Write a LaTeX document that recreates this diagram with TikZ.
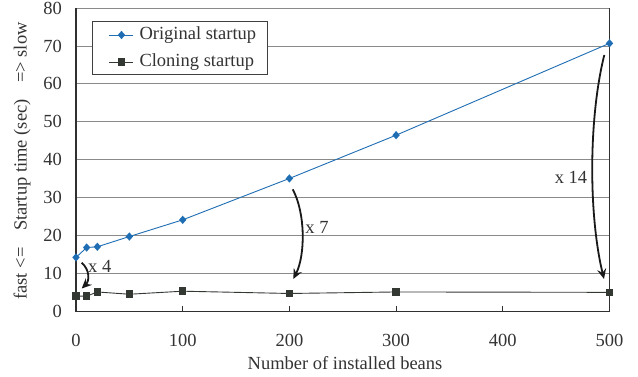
\documentclass[tikz,border=0pt]{standalone}
\usepackage{fontspec}
\setmainfont{Liberation Serif}
\usetikzlibrary{arrows.meta,shapes.geometric}
\definecolor{origblue}{HTML}{1F6EB4}
\definecolor{darkmark}{HTML}{333833}
\definecolor{gridgray}{HTML}{8A8A8A}
\definecolor{axisdark}{HTML}{303030}
\tikzset{
  lbl/.style={font=\fontsize{18.5}{20}\selectfont, text=black!80, inner sep=0pt},
  gridline/.style={gridgray, line width=0.9pt},
  axisline/.style={axisdark, line width=1.2pt},
  origline/.style={origblue, line width=0.9pt},
  cloneline/.style={darkmark, line width=0.9pt},
  diam/.style={diamond, fill=origblue, inner sep=0pt, minimum width=7.5pt, minimum height=8.5pt},
  sq/.style={rectangle, fill=darkmark, inner sep=0pt, minimum size=7.5pt},
  factor/.style={line width=1.8pt, black!90, -{Stealth[length=10pt, width=9pt, inset=3.5pt]}},
}
\begin{document}
\begin{tikzpicture}[x=1pt, y=-1pt]
\useasboundingbox (0,0) rectangle (638,377);
\fill[white] (0,0) rectangle (638,377);

% horizontal grid
\foreach \k in {1,...,8}
  \draw[gridline] (76,{311.7-37.96*\k}) -- (609.5,{311.7-37.96*\k});

% y tick labels
\foreach \k in {0,...,8}
  \node[lbl, anchor=east] (yt\k) at (62,{311.7-37.96*\k}) {\the\numexpr\k*10\relax};

% x ticks and labels
\foreach \k in {1,...,4}
  \draw[axisline] ({76+106.7*\k},311.7) -- ({76+106.7*\k},306);
\foreach \k in {0,...,5}
  \node[lbl] (xt\k) at ({76+106.7*\k},340.5) {\the\numexpr\k*100\relax};

% axes and frame
\draw[axisline] (609.5,8) -- (609.5,311.7);
\draw[axisline] (76,8) -- (76,311.7) -- (609.5,311.7);

% axis titles
\node[lbl] (xlabel) at (345,363) {Number of installed beans};
\node[lbl, rotate=90] (ylabel) at (22,161)
  {fast <=\hspace{0.9em}Startup time (sec)\hspace{0.9em}=> slow};

% data points
\begin{scope}[shift={(76,311.7)}, x=1.067pt, y=3.796pt]
  \coordinate (o0) at (0,14.3);
  \coordinate (o1) at (10,16.9);
  \coordinate (o2) at (20,17.1);
  \coordinate (o3) at (50,19.8);
  \coordinate (o4) at (100,24.2);
  \coordinate (o5) at (200,35.1);
  \coordinate (o6) at (300,46.5);
  \coordinate (o7) at (500,70.7);
  \coordinate (c0) at (0,4.1);
  \coordinate (c1) at (10,4.1);
  \coordinate (c2) at (20,5.2);
  \coordinate (c3) at (50,4.6);
  \coordinate (c4) at (100,5.4);
  \coordinate (c5) at (200,4.8);
  \coordinate (c6) at (300,5.2);
  \coordinate (c7) at (500,5.1);
\end{scope}

\draw[cloneline] (c0) -- (c1) -- (c2) -- (c3) -- (c4) -- (c5) -- (c6) -- (c7);
\foreach \i in {0,...,7} \node[sq] (cm\i) at (c\i) {};
\draw[origline] (o0) -- (o1) -- (o2) -- (o3) -- (o4) -- (o5) -- (o6) -- (o7);
\foreach \i in {0,...,7} \node[diam] (om\i) at (o\i) {};

% speed-up arrows
\coordinate (a4s) at (81.7,262.7);  \coordinate (a4e) at (81.7,288.5);
\coordinate (a7s) at (292.7,189.3); \coordinate (a7e) at (293.3,279);
\coordinate (a14s) at (604.3,55);   \coordinate (a14e) at (604,279);
\draw[factor] (a4s) .. controls (90,270) and (89.5,281) .. (a4e);
\draw[factor] (a7s) .. controls (305.5,213) and (305.5,255) .. (a7e);
\draw[factor] (a14s) .. controls (588.5,118) and (588.5,215) .. (a14e);
\node[lbl] (f4) at (99.7,266) {x 4};
\node[lbl] (f7) at (317,227) {x 7};
\node[lbl] (f14) at (571,177) {x 14};

% legend
\draw[fill=white, draw=black!75, line width=0.9pt] (92.7,21.7) rectangle (267.3,74);
\coordinate (l1a) at (109.3,35); \coordinate (l1b) at (133.3,35);
\coordinate (l2a) at (109.3,62); \coordinate (l2b) at (133.3,62);
\draw[origline] (l1a) -- (l1b);
\node[diam] (lm1) at (121.5,35) {};
\draw[cloneline] (l2a) -- (l2b);
\node[sq] (lm2) at (121.5,62) {};
\node[lbl, anchor=west] (lt1) at (139.3,35) {Original startup};
\node[lbl, anchor=west] (lt2) at (139.3,62) {Cloning startup};
\end{tikzpicture}
\end{document}
